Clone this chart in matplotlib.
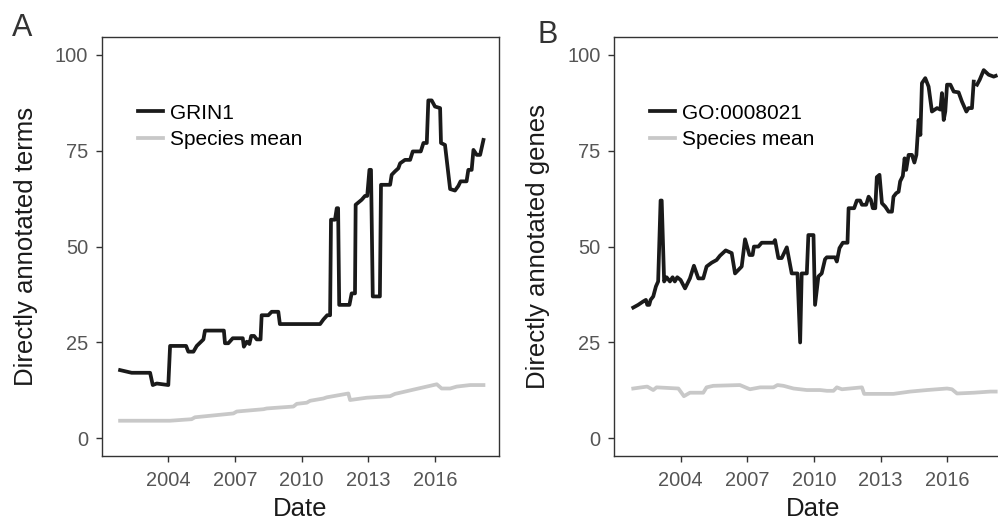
import numpy as np
import matplotlib
matplotlib.use("Agg")
import matplotlib.pyplot as plt

nan = np.nan

# Panel A: GRIN1 directly annotated terms (decimal years)
grin1_year = [2001.83, 2002.35, 2003.18, 2003.30, 2003.48, 2004.00, 2004.08, 2004.80, 2004.90, 2005.13,
              2005.28, 2005.58, 2005.65, 2006.50, 2006.55, 2006.70, 2006.90, 2007.35, 2007.40, 2007.53,
              2007.65, 2007.73, 2007.86, 2007.98, 2008.15, 2008.20, 2008.50, 2008.65, 2008.95, 2009.02,
              2010.83, 2010.98, 2011.15, 2011.28, 2011.32, 2011.50, 2011.58, 2011.64, 2011.69, 2012.15,
              2012.25, 2012.40, 2012.43, 2012.70, 2012.85, 2012.95, 2013.05, 2013.12, 2013.20, 2013.52,
              2013.57, 2013.98, 2014.05, 2014.20, 2014.35, 2014.43, 2014.65, 2014.88, 2015.00, 2015.36,
              2015.48, 2015.63, 2015.70, 2015.85, 2016.00, 2016.23, 2016.27, 2016.45, 2016.68, 2016.90,
              2017.05, 2017.15, 2017.42, 2017.50, 2017.65, 2017.73, 2017.88, 2018.03, 2018.18]
grin1_terms = [17.8, 17.1, 17.1, 13.9, 14.3, 13.9, 24.1, 24.1, 22.6, 22.6,
               24.1, 25.8, 28.1, 28.1, 24.8, 24.8, 26.1, 26.1, 23.9, 25.2,
               24.6, 26.7, 26.7, 25.8, 25.8, 32.1, 32.1, 33.0, 33.0, 29.8,
               29.8, 31.0, 32.1, 32.1, 57.0, 57.0, 60.0, 60.0, 34.8, 34.8,
               37.8, 37.8, 60.9, 62.2, 63.2, 63.2, 70.0, 70.0, 37.0, 37.0,
               66.1, 66.1, 68.7, 69.6, 70.4, 71.7, 72.6, 72.6, 74.8, 74.8,
               77.0, 77.0, 88.1, 88.1, 86.5, 86.1, 77.0, 76.5, 65.0, 64.6,
               65.8, 67.0, 67.0, 70.0, 70.0, 75.2, 73.9, 73.9, 77.8]

mean_a_year = [2001.83, 2004.08, 2005.05, 2005.20, 2006.93, 2007.08, 2008.28, 2008.43, 2009.63, 2009.78,
               2010.23, 2010.38, 2010.98, 2011.13, 2012.10, 2012.18, 2012.93, 2013.98, 2014.20, 2014.43,
               2015.10, 2015.78, 2016.08, 2016.30, 2016.68, 2016.98, 2017.58, 2018.18]
mean_a = [4.6, 4.6, 5.0, 5.5, 6.5, 7.0, 7.6, 7.8, 8.3, 9.0,
          9.3, 9.8, 10.4, 10.7, 11.7, 10.0, 10.6, 11.0, 11.6, 11.9,
          12.8, 13.7, 14.1, 13.0, 13.0, 13.5, 13.9, 13.9]

# Panel B: GO:0008021 directly annotated genes
go_year = [2001.87, 2002.09, 2002.32, 2002.44, 2002.50, 2002.59, 2002.65, 2002.77, 2002.89, 2002.99,
           2003.10, 2003.15, 2003.26, 2003.37, 2003.52, 2003.64, 2003.74, 2003.85, 2004.00, 2004.20,
           2004.42, 2004.60, 2004.80, 2005.02, 2005.17, 2005.40, 2005.62, 2005.77, 2006.03, 2006.30,
           2006.45, 2006.75, 2006.90, 2007.10, 2007.24, 2007.30, 2007.50, 2007.65, 2008.18, 2008.25,
           2008.40, 2008.55, 2008.78, 2009.00, 2009.26, 2009.38, 2009.45, 2009.68, 2009.75, 2009.98,
           2010.05, 2010.20, 2010.35, 2010.50, 2010.58, 2010.95, 2011.03, 2011.15, 2011.30, 2011.51,
           2011.56, 2011.81, 2011.93, 2012.08, 2012.16, 2012.35, 2012.46, 2012.56, 2012.65, 2012.76,
           2012.83, 2012.95, 2013.06, 2013.21, 2013.36, 2013.51, 2013.58, 2013.70, 2013.81, 2013.88,
           2014.00, 2014.08, 2014.15, 2014.26, 2014.41, 2014.52, 2014.61, 2014.71, 2014.79, 2014.86,
           2015.01, 2015.16, 2015.31, 2015.54, 2015.69, 2015.76, 2015.84, 2015.91, 2015.99, 2016.14,
           2016.29, 2016.51, 2016.66, 2016.86, 2016.96, 2017.11, 2017.19, 2017.25, 2017.34, 2017.46,
           2017.64, 2017.86, 2018.09, 2018.18]
go_genes = [34.1, 34.8, 35.7, 36.1, 34.8, 34.8, 36.1, 37.0, 39.6, 40.9,
            62.0, 62.0, 40.9, 42.0, 40.9, 42.0, 40.9, 42.0, 41.3, 39.1,
            41.7, 45.0, 41.7, 41.7, 44.8, 45.8, 46.5, 47.6, 49.0, 48.3,
            43.0, 44.8, 51.9, 47.8, 47.8, 50.0, 50.0, 51.0, 51.0, 51.7,
            47.0, 47.0, 49.8, 43.0, 43.0, 25.0, 43.0, 43.0, 53.0, 53.0,
            34.8, 42.2, 43.0, 46.7, 47.2, 47.2, 46.1, 49.6, 51.0, 51.0,
            60.0, 60.0, 62.0, 62.0, 60.9, 60.9, 63.0, 62.2, 60.0, 60.0,
            68.1, 68.7, 61.3, 60.4, 59.1, 59.1, 63.0, 63.9, 64.3, 67.0,
            68.4, 73.0, 70.0, 73.9, 73.9, 71.9, 73.9, 83.0, 79.1, 92.6,
            93.9, 91.7, 85.2, 86.1, 85.7, 90.0, 83.0, 85.2, 92.2, 92.2,
            90.4, 90.2, 87.8, 85.2, 86.1, 86.1, 93.0, nan, 92.2, 93.5,
            96.0, 94.8, 94.3, 94.5]

mean_b_year = [2001.87, 2002.24, 2002.50, 2002.77, 2002.92, 2003.90, 2004.15, 2004.42, 2005.02, 2005.17,
               2005.47, 2006.67, 2007.12, 2007.58, 2008.18, 2008.36, 2008.63, 2009.08, 2009.68, 2010.28,
               2010.58, 2010.88, 2011.03, 2011.26, 2012.16, 2012.26, 2013.58, 2014.33, 2015.09, 2015.99,
               2016.21, 2016.44, 2017.19, 2017.94, 2018.18]
mean_b = [13.0, 13.3, 13.5, 12.6, 13.3, 13.0, 11.0, 11.9, 11.9, 13.3,
          13.7, 13.9, 12.8, 13.3, 13.3, 13.9, 13.7, 13.0, 12.6, 12.6,
          12.4, 12.4, 13.3, 12.8, 13.3, 11.6, 11.6, 12.2, 12.6, 13.0,
          12.8, 11.7, 11.9, 12.2, 12.2]

year_ticks = [2004, 2007, 2010, 2013, 2016]
value_ticks = [0, 25, 50, 75, 100]

plt.rcParams['font.family'] = ['Liberation Sans', 'DejaVu Sans']

fig = plt.figure(figsize=(9.98, 5.22), dpi=100)
ax_a = fig.add_axes([0.1022, 0.1264, 0.3978, 0.8036])
ax_b = fig.add_axes([0.6155, 0.1264, 0.3978, 0.8036])

panels = [
    (ax_a, grin1_year, grin1_terms, mean_a_year, mean_a, "GRIN1", "Directly annotated terms"),
    (ax_b, go_year, go_genes, mean_b_year, mean_b, "GO:0008021", "Directly annotated genes"),
]

for ax, x, y, mx, my, name, ylabel in panels:
    ax.plot(x, y, color='#1a1a1a', lw=2.7, label=name)
    ax.plot(mx, my, color='#c8c8c8', lw=2.7, label="Species mean")
    ax.set_xlim(2001.016, 2018.88)
    ax.set_ylim(-4.6, 104.75)
    ax.set_xticks(year_ticks)
    ax.set_xticklabels([str(t) for t in year_ticks])
    ax.set_yticks(value_ticks)
    for sp in ax.spines.values():
        sp.set_color('#333333')
        sp.set_linewidth(1.0)
    ax.tick_params(length=4, width=1.0, color='#333333', labelcolor='#555555', labelsize=14.4)
    ax.tick_params(axis='x', pad=7)
    ax.tick_params(axis='y', pad=6)
    ax.set_xlabel("Date", fontsize=18.5, color='#1a1a1a', labelpad=5)
    ax.set_ylabel(ylabel, fontsize=18.5, color='#1a1a1a', labelpad=12)
    ax.legend(loc='upper left', bbox_to_anchor=(0.09, 0.84), frameon=False, fontsize=15,
              handlelength=1.2, handletextpad=0.35, labelspacing=0.35, borderpad=0, borderaxespad=0)

letter_font = ['Liberation Sans Narrow', 'Liberation Sans', 'DejaVu Sans']
fig.text(12 / 998, 1 - 36 / 522, "A", fontsize=22, color='#333333', family=letter_font, va='baseline')
fig.text(537 / 998, 1 - 43 / 522, "B", fontsize=22, color='#333333', family=letter_font, va='baseline')

fig.savefig("out.png", dpi=100)
